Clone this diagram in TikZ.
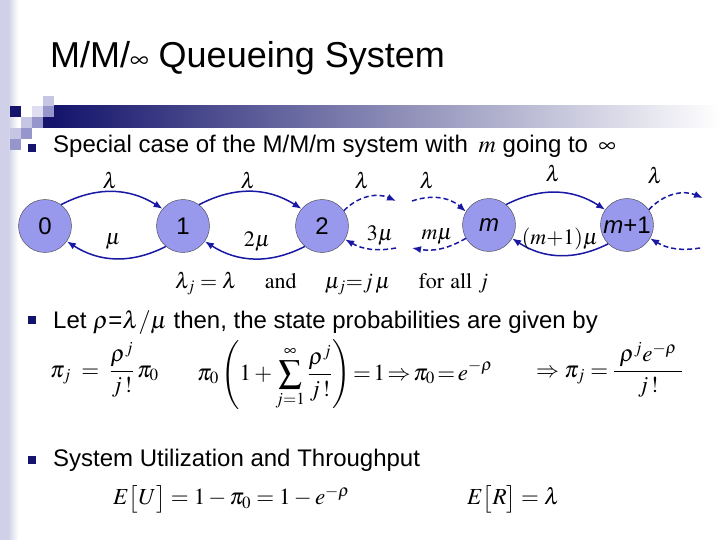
\documentclass[tikz,border=0pt]{standalone}
\usepackage{amsmath}
\usepackage{mathptmx}
\usepackage[no-math]{fontspec}
\setmainfont{Liberation Sans}
\usetikzlibrary{arrows.meta,positioning}

\definecolor{navy}{RGB}{20,20,108}
\definecolor{sqmid}{RGB}{150,150,205}
\definecolor{sqlight}{RGB}{198,198,228}
\definecolor{sqpale}{RGB}{222,222,240}
\definecolor{stripcol}{RGB}{208,208,232}
\definecolor{statefill}{RGB}{152,152,236}
\definecolor{arcblue}{RGB}{24,24,165}

\begin{document}
\begin{tikzpicture}[x=1pt, y=-1pt,
    state/.style={circle, draw=black!75, fill=statefill, minimum size=53pt,
      inner sep=0pt, font=\fontsize{24}{28}\selectfont},
    txt/.style={anchor=base west, inner sep=0pt, font=\fontsize{24}{28}\selectfont},
    eqn/.style={anchor=west, inner sep=0pt, font=\fontsize{23}{27}\selectfont},
    lbl/.style={inner sep=0pt, font=\fontsize{22}{26}\selectfont},
    arrow/.style={-{Latex[length=9pt,width=7pt]}, line width=1.5pt, draw=arcblue},
    darrow/.style={arrow, dash pattern=on 5pt off 3pt}
  ]
    \fill[white] (0,0) rectangle (720,540);
    \useasboundingbox (0,0) rectangle (720,540);
    \fill[stripcol] (0,0) rectangle (8,540);
    \shade[left color=stripcol, right color=white] (8,0) rectangle (18,540);

    \shade[left color=navy, right color=white] (54,106) rectangle (720,128);
    \foreach \x/\y/\c in {43/96/sqlight, 10/106/navy, 32/106/sqpale, 43/106/sqmid,
      21/117/sqlight, 32/117/sqmid, 43/117/navy, 10/128/sqlight, 21/128/sqmid,
      10/139/sqmid}
      \fill[\c] (\x,\y) rectangle ++(11,11);
    \foreach \y in {148,320,460}
      \fill[navy] (28,\y-4) rectangle ++(8,8);

    \node[anchor=base west, inner sep=0pt, font=\fontsize{36}{40}\selectfont] (title)
      at (50,68) {M/M/{\fontsize{26}{26}\selectfont$\infty$} Queueing System};

    \node[txt] (item1) at (53,153) {Special case of the M/M/m system with \,$m$ going to \,$\infty$};

    \node[state] (s0) at (45,226) {0};
    \node[state] (s1) at (183,226) {1};
    \node[state] (s2) at (322,226) {2};
    \node[state] (sm) at (489,225) {\textit{m}};
    \node[state] (sm1) at (627,225) {\textit{m}+1};

    \coordinate (o2) at (396,201);
    \coordinate (i2) at (396,248);
    \coordinate (im) at (412,201);
    \coordinate (om) at (412,248);
    \coordinate (o3) at (703,198);
    \coordinate (i3) at (700,248);

    \draw[arrow] (s0.53) to[bend left=30] (s1.140);
    \draw[arrow] (s1.230) to[bend left=30] (s0.-35);
    \draw[arrow] (s1.53) to[bend left=30] (s2.140);
    \draw[arrow] (s2.230) to[bend left=30] (s1.-35);
    \draw[darrow] (s2.35) to[bend left=35] (o2);
    \draw[darrow] (i2) to[bend left=20] (s2.-30);
    \draw[darrow] (im) to[bend left=30] (sm.150);
    \draw[darrow] (sm.210) to[bend left=20] (om);
    \draw[arrow] (sm.50) to[bend left=30] (sm1.145);
    \draw[arrow] (sm1.225) to[bend left=30] (sm.-30);
    \draw[darrow] (sm1.35) to[bend left=35] (o3);
    \draw[darrow] (i3) to[bend left=20] (sm1.-30);

    \node[lbl] (lam01) at (110,180) {$\lambda$};
    \node[lbl] (lam12) at (248,180) {$\lambda$};
    \node[lbl] (lam23) at (362,180) {$\lambda$};
    \node[lbl] (lamin) at (427,180) {$\lambda$};
    \node[lbl] (lammm) at (553,173) {$\lambda$};
    \node[lbl] (lamout) at (655,175) {$\lambda$};
    \node[lbl] (mu10) at (113,242) {$\mu$};
    \node[lbl] (mu21) at (257,242) {$2\mu$};
    \node[lbl] (mu32) at (380,236) {$3\mu$};
    \node[lbl] (mumm) at (437,237) {$m\mu$};
    \node[lbl] (mumm1) at (560,239) {$(m{+}1)\mu$};

    \node[lbl, anchor=base west] (rates) at (175,288)
      {$\lambda_j=\lambda\quad\ \mathrm{and}\quad\ \mu_j{=}j\,\mu\quad\ \mathrm{for\ all}\ j$};

    \node[txt] (item2) at (53,328) {Let $\rho$=$\lambda/\mu$ then, the state probabilities are given by};

    \node[eqn] (eqa) at (50,370) {$\displaystyle \pi_j\;=\;\frac{\rho^j}{j\,!}\,\pi_0$};
    \node[eqn] (eqb) at (197,375)
      {$\thickmuskip=2mu\displaystyle \pi_0\left(1+\sum_{j=1}^{\infty}\frac{\rho^j}{j\,!}\right)=1\Rightarrow\pi_0=e^{-\rho}$};
    \node[eqn] (eqc) at (536,370) {$\displaystyle \Rightarrow\pi_j=\frac{\;\rho^j e^{-\rho}\;}{j\,!}$};

    \node[txt] (item3) at (53,466) {System Utilization and Throughput};

    \node[eqn] (util) at (113,499) {$E\big[U\big]=1-\pi_0=1-e^{-\rho}$};
    \node[eqn] (thru) at (467,499) {$E\big[R\big]=\lambda$};
  \end{tikzpicture}
\end{document}
